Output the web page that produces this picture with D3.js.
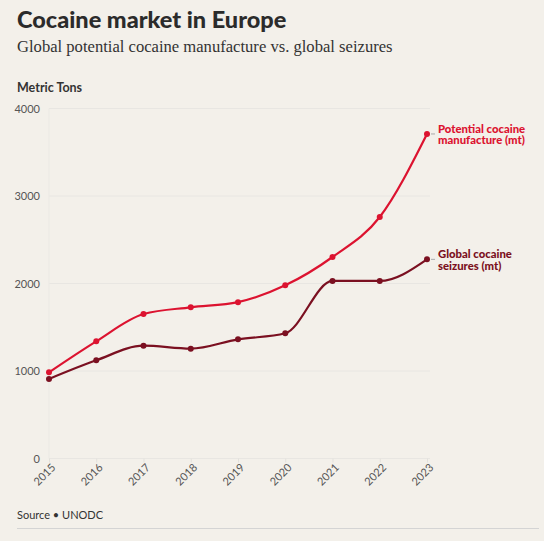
<!DOCTYPE html>
<html>
<head>
<meta charset="utf-8">
<script src="https://cdn.jsdelivr.net/npm/d3@7"></script>
<style>
  body { margin:0; background:#f3f0ea; }
  svg { display:block; }
</style>
</head>
<body>
<div id="chart"></div>
<script>
// datos
const years = [2015, 2016, 2017, 2018, 2019, 2020, 2021, 2022, 2023];
const manufacture = [985, 1339, 1651, 1728, 1787, 1979, 2303, 2760, 3709];
const seizures = [909, 1122, 1289, 1255, 1362, 1431, 2029, 2029, 2276];
const yTicks = [0, 1000, 2000, 3000, 4000];
const manufLabel = ["Potential cocaine", "manufacture (mt)"];
const seizLabel = ["Global cocaine", "seizures (mt)"];

const W = 544, H = 541;
const sans = "Lato, 'Open Sans', sans-serif";
const serif = "'Liberation Serif', 'DejaVu Serif', serif";

const svg = d3.select("#chart").append("svg")
  .attr("width", W).attr("height", H)
  .style("background", "#f3f0ea");

// titulo
svg.append("text").attr("x", 17).attr("y", 28)
  .style("font-family", sans).style("font-weight", 900).style("font-size", "23.5px")
  .style("fill", "#2b2b2b").text("Cocaine market in Europe");
svg.append("text").attr("x", 17).attr("y", 52)
  .style("font-family", serif).style("font-size", "16.6px")
  .style("fill", "#333").text("Global potential cocaine manufacture vs. global seizures");
svg.append("text").attr("x", 17).attr("y", 92)
  .style("font-family", sans).style("font-weight", 700).style("font-size", "12.5px")
  .style("fill", "#333").text("Metric Tons");

const x = d3.scaleLinear().domain([2015, 2023]).range([49, 427]);
const y = d3.scaleLinear().domain([0, 4000]).range([458.5, 108.5]);

// grilla
const g = svg.append("g");
g.append("g").selectAll("line").data(yTicks).enter().append("line")
  .attr("x1", 49).attr("x2", 430)
  .attr("y1", d => y(d)).attr("y2", d => y(d))
  .style("stroke", "#e8e6e2").style("stroke-width", 1);
g.append("line").attr("x1", 49).attr("x2", 49).attr("y1", y(4000)).attr("y2", y(0))
  .style("stroke", "#ebe9e4");

// eje Y
g.append("g").selectAll("text").data(yTicks).enter().append("text")
  .attr("x", 40).attr("y", d => y(d) + 4)
  .attr("text-anchor", "end")
  .style("font-family", sans).style("font-size", "11px").style("fill", "#555")
  .text(d => d);

// eje X
const xAxis = g.append("g").attr("transform", "translate(0," + y(0) + ")")
  .call(d3.axisBottom(x).tickValues(years).tickFormat(d3.format("d")).tickSize(4));
xAxis.select(".domain").remove();
xAxis.selectAll(".tick line").style("stroke", "#e3e1dc");
xAxis.selectAll(".tick text")
  .style("font-family", sans).style("font-size", "11px").style("fill", "#555")
  .attr("text-anchor", "end")
  .attr("transform", "translate(4,7) rotate(-45)")
  .attr("dy", "0.35em").attr("y", 0).attr("x", 0);

// lineas
const series = [
  {vals: manufacture, color: "#dc1330", label: manufLabel},
  {vals: seizures, color: "#7b1021", label: seizLabel}
];
const line = d3.line()
  .x((d, i) => x(years[i]))
  .y(d => y(d))
  .curve(d3.curveMonotoneX);

series.forEach(s => {
  g.append("path").datum(s.vals)
    .attr("d", line)
    .style("fill", "none").style("stroke", s.color).style("stroke-width", 2.2);
  g.append("g").selectAll("circle").data(s.vals).enter().append("circle")
    .attr("cx", (d, i) => x(years[i])).attr("cy", d => y(d))
    .attr("r", 3).style("fill", s.color);
  const last = s.vals[s.vals.length - 1];
  const ly = y(last);
  g.append("line").attr("x1", 431).attr("x2", 435).attr("y1", ly).attr("y2", ly)
    .style("stroke", "#aaa").style("stroke-width", 1);
  s.label.forEach((l, i) => {
    g.append("text").attr("x", 438).attr("y", ly - 1 + i * 11.5)
      .style("font-family", sans).style("font-weight", 900).style("font-size", "11.3px")
      .style("fill", s.color).text(l);
  });
});

// fuente
svg.append("text").attr("x", 17).attr("y", 519)
  .style("font-family", sans).style("font-size", "11px").style("fill", "#333")
  .text("Source \u2022 UNODC");
svg.append("line").attr("x1", 17).attr("x2", 539).attr("y1", 528.5).attr("y2", 528.5)
  .style("stroke", "#d4d4d4").style("stroke-width", 1);
</script>
</body>
</html>
